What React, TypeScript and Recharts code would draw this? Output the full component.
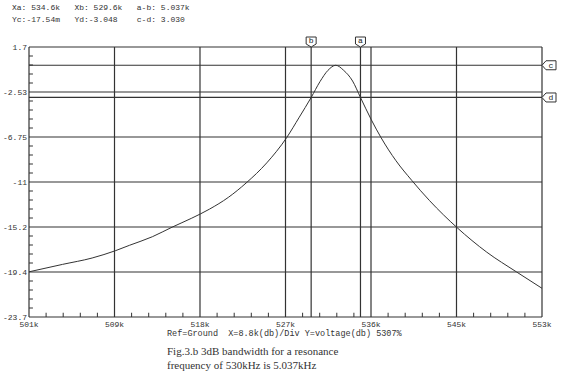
import React from "react";
import { LineChart, Line, XAxis, YAxis, CartesianGrid, ReferenceLine } from "recharts";

// frequency (kHz) and voltage (dB)
const freqK = [
  501, 504.4, 507.4, 509.8, 511.2, 513.5, 515.5, 517.5, 519.3, 521.2, 523.0, 525.1, 527.1, 528.4, 529.6,
  530.5, 531.3, 532.1, 532.9, 533.8, 534.6, 535.7, 536.7, 538.2, 539.8, 541.6, 544.4, 547.4, 550.4, 553,
];
const voltDb = [
  -19.45, -18.75, -18.15, -17.45, -16.95, -16.15, -15.25, -14.4, -13.55, -12.45, -11.1, -9.2, -6.85, -4.9, -3.05,
  -1.55, -0.5, -0.02, -0.5, -1.5, -3.05, -5.15, -6.85, -9.0, -10.85, -12.75, -15.3, -17.6, -19.45, -21.0,
];

const xTicks = [501, 509.667, 518.333, 527, 535.667, 544.333, 553];
const xTickLabels = ["501k", "509k", "518k", "527k", "536k", "545k", "553k"];
const yTicks = [1.7, -2.533, -6.767, -11, -15.233, -19.467, -23.7];
const yTickLabels = ["1.7", "-2.53", "-6.75", "-11", "-15.2", "-19.4", "-23.7"];

// cursors
const cursorA = 534.6;
const cursorB = 529.6;
const cursorC = -0.01754;
const cursorD = -3.048;

const X_MIN = 501;
const X_MAX = 553;
const Y_MIN = -23.7;
const Y_MAX = 1.7;

const INK = "#333";
const MONO = "'Liberation Mono', 'DejaVu Sans Mono', monospace";

const data = freqK.map((f, i) => ({ f, v: voltDb[i] }));

// minor ticks: 5 divisions between each major tick
const xMinor: number[] = [];
const yMinor: number[] = [];
for (let i = 0; i < 30; i++) {
  if (i % 5 !== 0) {
    xMinor.push(X_MIN + ((X_MAX - X_MIN) * i) / 30);
    yMinor.push(Y_MAX - ((Y_MAX - Y_MIN) * i) / 30);
  }
}

function VMark({ viewBox, name }: any) {
  const x = viewBox.x;
  const y = viewBox.y;
  const pts = `${x - 5},${y - 10} ${x + 5},${y - 10} ${x + 5},${y - 3} ${x},${y} ${x - 5},${y - 3}`;
  return (
    <g>
      <polygon points={pts} fill="#fff" stroke={INK} strokeWidth={1} />
      <text x={x} y={y - 4} textAnchor="middle" fontSize={8} fontFamily={MONO} fill="#222">
        {name}
      </text>
    </g>
  );
}

function HMark({ viewBox, name }: any) {
  const x = viewBox.x + viewBox.width;
  const y = viewBox.y;
  const pts = `${x},${y} ${x + 4},${y - 4.5} ${x + 14},${y - 4.5} ${x + 14},${y + 4.5} ${x + 4},${y + 4.5}`;
  return (
    <g>
      <polygon points={pts} fill="#fff" stroke={INK} strokeWidth={1} />
      <text x={x + 9} y={y + 3} textAnchor="middle" fontSize={8} fontFamily={MONO} fill="#222">
        {name}
      </text>
    </g>
  );
}

export default function App() {
  return (
    <div style={{ position: "absolute", left: 0, top: 0, width: 566, height: 377, background: "#fff" }}>
      {/* cursor readout */}
      <div
        style={{
          position: "absolute",
          left: 12,
          top: 2,
          fontFamily: MONO,
          fontSize: 8,
          lineHeight: "12px",
          whiteSpace: "pre",
          color: "#333",
        }}
      >
        {"Xa: 534.6k   Xb: 529.6k   a-b: 5.037k\nYc:-17.54m   Yd:-3.048    c-d: 3.030"}
      </div>

      <LineChart width={566} height={377} data={data} margin={{ top: 47, right: 24, bottom: 40, left: 0 }}>
        <CartesianGrid stroke={INK} strokeWidth={1.2} />
        <XAxis
          type="number"
          dataKey="f"
          domain={[X_MIN, X_MAX]}
          ticks={xTicks}
          interval={0}
          tickFormatter={(_v: number, i: number) => xTickLabels[i]}
          height={20}
          tickSize={0}
          tickMargin={4}
          axisLine={false}
          tick={{ fontSize: 8, fontFamily: MONO, fill: "#333" }}
        />
        <YAxis
          type="number"
          domain={[Y_MIN, Y_MAX]}
          ticks={yTicks}
          interval={0}
          tickFormatter={(_v: number, i: number) => yTickLabels[i]}
          width={29}
          tickSize={0}
          tickMargin={2}
          axisLine={false}
          tick={{ fontSize: 8, fontFamily: MONO, fill: "#333" }}
        />

        {xMinor.map((t) => (
          <ReferenceLine
            key={"xm" + t}
            segment={[
              { x: t, y: Y_MIN },
              { x: t, y: Y_MIN + 0.4 },
            ]}
            stroke={INK}
            strokeWidth={1}
          />
        ))}
        {yMinor.map((t) => (
          <ReferenceLine
            key={"ym" + t}
            segment={[
              { x: X_MIN, y: t },
              { x: X_MIN + 0.4, y: t },
            ]}
            stroke={INK}
            strokeWidth={1}
          />
        ))}

        <ReferenceLine y={cursorC} stroke={INK} strokeWidth={1.2} label={(p: any) => <HMark viewBox={p.viewBox} name="c" />} />
        <ReferenceLine y={cursorD} stroke={INK} strokeWidth={1.2} label={(p: any) => <HMark viewBox={p.viewBox} name="d" />} />
        <ReferenceLine x={cursorB} stroke={INK} strokeWidth={1.2} label={(p: any) => <VMark viewBox={p.viewBox} name="b" />} />
        <ReferenceLine x={cursorA} stroke={INK} strokeWidth={1.2} label={(p: any) => <VMark viewBox={p.viewBox} name="a" />} />

        <Line
          type="monotone"
          dataKey="v"
          stroke="#333"
          strokeWidth={1}
          dot={false}
          isAnimationActive={false}
        />
      </LineChart>

      <div
        style={{
          position: "absolute",
          left: 167,
          top: 328,
          fontFamily: MONO,
          fontSize: 8.5,
          lineHeight: "12px",
          whiteSpace: "pre",
          color: "#333",
        }}
      >
        {"Ref=Ground  X=8.8k(db)/Div Y=voltage(db) 5307%"}
      </div>
      <div
        style={{
          position: "absolute",
          left: 167,
          top: 344,
          fontFamily: "'Liberation Serif', 'DejaVu Serif', serif",
          fontSize: 11,
          lineHeight: "14px",
          color: "#333",
        }}
      >
        Fig.3.b 3dB bandwidth for a resonance
        <br />
        frequency of 530kHz is 5.037kHz
      </div>
    </div>
  );
}
